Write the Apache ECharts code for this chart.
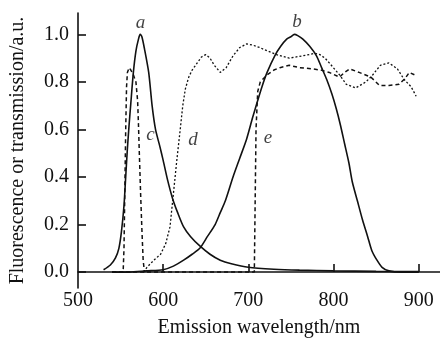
<!DOCTYPE html>
<html>
<head>
<meta charset="utf-8">
<script src="https://cdn.jsdelivr.net/npm/echarts@6/dist/echarts.min.js"></script>
<style>html,body{margin:0;padding:0;background:#fff}#c{width:440px;height:343px}</style>
</head>
<body>
<div id="c"></div>
<script>
// Curve a: fluorescence (solid)
const aX = [530, 538, 544, 548, 551, 554, 556, 558, 560, 562, 565, 568, 571, 573, 575, 578, 583, 587, 591, 596, 600, 605, 611, 617, 624, 632, 643, 655, 667, 680, 700, 730, 760, 800, 850, 900];
const aY = [0.01, 0.03, 0.06, 0.1, 0.17, 0.28, 0.4, 0.52, 0.62, 0.71, 0.84, 0.93, 0.98, 1.0, 0.99, 0.94, 0.84, 0.7, 0.6, 0.53, 0.47, 0.39, 0.31, 0.25, 0.19, 0.15, 0.11, 0.075, 0.05, 0.035, 0.02, 0.012, 0.008, 0.005, 0.003, 0.002];
// Curve b: fluorescence (solid)
const bX = [540, 560, 580, 600, 612, 624, 634, 643, 652, 661, 667, 673, 682, 690, 698, 705, 710, 716, 722, 731, 738, 745, 750, 754, 758, 764, 772, 780, 786, 792, 798, 803, 808, 813, 818, 822, 828, 834, 840, 845, 851, 857, 865, 880, 900];
const bY = [0, 0, 0.005, 0.01, 0.025, 0.05, 0.075, 0.1, 0.15, 0.2, 0.25, 0.3, 0.4, 0.48, 0.56, 0.65, 0.71, 0.78, 0.84, 0.91, 0.95, 0.98, 0.99, 1.0, 0.995, 0.98, 0.95, 0.91, 0.86, 0.81, 0.75, 0.69, 0.62, 0.54, 0.46, 0.38, 0.3, 0.22, 0.15, 0.09, 0.05, 0.02, 0.005, 0, 0];
// Curve c: transmission (dashed)
const cX = [540, 553, 554, 555, 556, 557, 558, 560, 562, 565, 568, 570, 571, 572, 573.5, 575, 576.5, 578];
const cY = [0, 0, 0.1, 0.35, 0.6, 0.78, 0.84, 0.86, 0.85, 0.83, 0.8, 0.72, 0.62, 0.5, 0.33, 0.18, 0.05, 0];
// Curve d: transmission (dotted)
const dX = [577, 581, 589, 597, 603, 608, 612, 616, 620, 623, 626, 630, 634, 640, 645, 650, 655, 660, 667, 674, 682, 690, 698, 705, 713, 723, 733, 748, 764, 778, 784, 790, 795, 801, 807, 815, 826, 838, 845, 855, 865, 875, 883, 891, 897];
const dY = [0, 0.02, 0.05, 0.075, 0.12, 0.19, 0.33, 0.47, 0.6, 0.7, 0.77, 0.82, 0.85, 0.88, 0.905, 0.915, 0.9, 0.87, 0.84, 0.86, 0.91, 0.945, 0.96, 0.955, 0.945, 0.93, 0.915, 0.9, 0.91, 0.92, 0.915, 0.9, 0.88, 0.855, 0.83, 0.79, 0.775, 0.8, 0.825, 0.87, 0.88, 0.855, 0.81, 0.78, 0.74];
// Curve e: transmission (dashed)
const eX = [540, 600, 650, 700, 707, 708, 709, 711, 714, 722, 730, 737, 748, 760, 775, 785, 795, 807, 813, 819, 830, 844, 854, 865, 877, 884, 889, 898];
const eY = [0, 0, 0, 0, 0, 0.3, 0.6, 0.76, 0.8, 0.83, 0.85, 0.86, 0.87, 0.86, 0.855, 0.85, 0.84, 0.82, 0.84, 0.855, 0.84, 0.82, 0.785, 0.785, 0.79, 0.815, 0.84, 0.825];
// Curve labels: [name, x, y]
const curveLabels = [['a', 573.5, 1.05], ['b', 757, 1.054], ['c', 585, 0.575], ['d', 635, 0.554], ['e', 723, 0.5625]];
const xTicks = [500, 600, 700, 800, 900];
const yTicks = [0, 0.2, 0.4, 0.6, 0.8, 1.0];

const zip = (xs, ys) => xs.map((x, i) => [x, ys[i]]);
const font = '"Liberation Serif", "Times New Roman", serif';
const ink = '#111';

function lineSeries(name, xs, ys, type, width, smooth) {
  return {
    name, type: 'line', data: zip(xs, ys), showSymbol: false, symbol: 'none',
    smooth: smooth, animation: false,
    lineStyle: { color: ink, width: width, type: type }
  };
}

const series = [
  lineSeries('a', aX, aY, 'solid', 1.6, 0.25),
  lineSeries('b', bX, bY, 'solid', 1.6, 0.25),
  lineSeries('c', cX, cY, [4, 3], 1.5, false),
  lineSeries('d', dX, dY, [2, 2], 1.3, false),
  lineSeries('e', eX, eY, [4, 3], 1.5, false),
  {
    type: 'scatter', animation: false, symbolSize: 0, silent: true,
    data: curveLabels.map(l => ({ value: [l[1], l[2]], name: l[0] })),
    label: {
      show: true, position: 'inside', formatter: p => p.name,
      fontFamily: font, fontStyle: 'italic', fontSize: 19, color: ink
    }
  }
];

const chart = echarts.init(document.getElementById('c'), null, { renderer: 'canvas' });
chart.setOption({
  animation: false,
  backgroundColor: '#fff',
  grid: { left: 77, right: 0, top: 13, bottom: 52, containLabel: false },
  xAxis: {
    type: 'value', min: 500, max: 925,
    name: 'Emission wavelength/nm', nameLocation: 'middle', nameGap: 30,
    nameTextStyle: { fontFamily: font, fontSize: 20, color: ink },
    axisLine: { show: true, lineStyle: { color: ink, width: 1.6 } },
    axisTick: { show: true, inside: true, length: 8, lineStyle: { color: ink, width: 1.6 },
      customValues: xTicks.slice(1) },
    axisLabel: { fontFamily: font, fontSize: 20, color: ink, margin: 3, customValues: xTicks },
    splitLine: { show: false }
  },
  yAxis: {
    type: 'value', min: -0.067, max: 1.09,
    name: 'Fluorescence or transmission/a.u.', nameLocation: 'middle', nameGap: 50,
    nameTextStyle: { fontFamily: font, fontSize: 20, color: ink },
    axisLine: { show: true, lineStyle: { color: ink, width: 1.6 } },
    axisTick: { show: true, inside: true, length: 8, lineStyle: { color: ink, width: 1.6 },
      customValues: yTicks },
    axisLabel: { fontFamily: font, fontSize: 20, color: ink, margin: 9, customValues: yTicks,
      formatter: v => v.toFixed(1) },
    splitLine: { show: false }
  },
  series
});
</script>
</body>
</html>
